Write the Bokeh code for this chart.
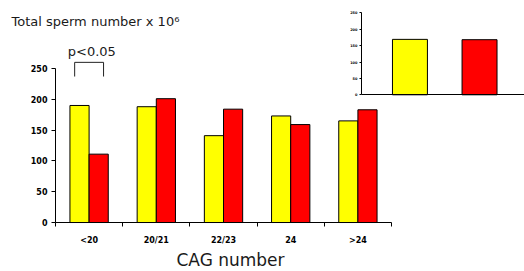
from bokeh.plotting import figure
from bokeh.models import Range1d, LinearAxis, FixedTicker
from bokeh.embed import file_html
from bokeh.resources import INLINE
from bokeh.core.properties import value

# ---- data ----
categories = ["<20", "20/21", "22/23", "24", ">24"]
series_yellow = [190, 188, 141, 173, 165]
series_red = [111, 201, 184, 159, 183]
inset_values = [169, 168]          # overall: yellow, red
y_ticks = [0, 50, 100, 150, 200, 250]
inset_y_ticks = [0, 50, 100, 150, 200, 250]
title_text = "Total sperm number x 10\u2076"
x_title = "CAG number"
sig_text = "p<0.05"
sig_category = "<20"
sig_bracket = [237, 260]           # bracket foot / top (y units)
sig_label_y = 278

YELLOW = "#FFFF00"
RED = "#FF0000"
FONT = "DejaVu Sans"

W, H = 524, 271
p = figure(width=W, height=H, output_backend="svg", toolbar_location=None,
           x_range=Range1d(-0.8185, 6.979), y_range=Range1d(-79.5, 360.4),
           x_axis_type=None, y_axis_type=None,
           min_border=0, min_border_left=0, min_border_right=0,
           min_border_top=0, min_border_bottom=0)
p.outline_line_color = None
p.background_fill_color = "white"
p.border_fill_color = "white"
p.extra_x_ranges = {"ix": Range1d(-2.168, 0.979)}
p.extra_y_ranges = {"iy": Range1d(-538.7, 287.5)}

# ---- main bars ----
n = len(categories)
bw = 0.285
xs_y = [i + 0.5 - bw / 2 for i in range(n)]
xs_r = [i + 0.5 + bw / 2 for i in range(n)]
p.vbar(x=xs_y, top=series_yellow, bottom=0, width=bw,
       fill_color=YELLOW, line_color="black", line_width=1)
p.vbar(x=xs_r, top=series_red, bottom=0, width=bw,
       fill_color=RED, line_color="black", line_width=1)

# ---- main axes ----
yax = LinearAxis(fixed_location=0, bounds=(0, 250),
                 ticker=FixedTicker(ticks=y_ticks, minor_ticks=[]))
yax.axis_line_color = "black"
yax.major_tick_out = 4
yax.major_tick_in = 0
yax.minor_tick_line_color = None
yax.major_label_standoff = 4
yax.major_label_text_font = FONT
yax.major_label_text_font_style = "bold"
yax.major_label_text_font_size = "8px"
yax.major_label_text_color = "black"
p.add_layout(yax, "left")

xax = LinearAxis(fixed_location=0, bounds=(0, n),
                 ticker=FixedTicker(ticks=[i + 0.5 for i in range(n)],
                                    minor_ticks=list(range(n + 1))))
xax.major_label_overrides = {i + 0.5: c for i, c in enumerate(categories)}
xax.axis_line_color = "black"
xax.major_tick_out = 0
xax.major_tick_in = 0
xax.minor_tick_out = 4
xax.minor_tick_in = 0
xax.minor_tick_line_color = "black"
xax.major_label_standoff = 9
xax.major_label_text_font = FONT
xax.major_label_text_font_style = "bold"
xax.major_label_text_font_size = "8px"
xax.major_label_text_color = "black"
p.add_layout(xax, "below")

# x axis title
p.text(x=[2.604], y=[-60.1], text=[x_title],
       text_font=value(FONT), text_font_size="17px", text_color="#1a1a1a",
       text_align="center", text_baseline="alphabetic")

# ---- significance bracket ----
si = categories.index(sig_category)
bx0, bx1 = si + 0.285, si + 0.715
p.line(x=[bx0, bx0, bx1, bx1],
       y=[sig_bracket[0], sig_bracket[1], sig_bracket[1], sig_bracket[0]],
       line_color="#222222", line_width=1)
p.text(x=[si + 0.54], y=[sig_label_y], text=[sig_text],
       text_font=value(FONT), text_font_size="13px", text_color="#1a1a1a",
       text_align="center", text_baseline="alphabetic")

# ---- title ----
p.text(x=[-0.655], y=[326.8], text=[title_text],
       text_font=value(FONT), text_font_size="13px", text_color="#1a1a1a",
       text_align="left", text_baseline="alphabetic")

# ---- inset (overall) ----
p.vbar(x=[0.291, 0.709], top=inset_values, bottom=0, width=0.21,
       fill_color=[YELLOW, RED], line_color="black", line_width=1,
       x_range_name="ix", y_range_name="iy")

iyax = LinearAxis(x_range_name="ix", y_range_name="iy", fixed_location=0,
                  bounds=(0, 250),
                  ticker=FixedTicker(ticks=inset_y_ticks, minor_ticks=[]))
iyax.axis_line_color = "black"
iyax.major_tick_out = 2
iyax.major_tick_in = 0
iyax.minor_tick_line_color = None
iyax.major_label_standoff = 2
iyax.major_label_text_font = FONT
iyax.major_label_text_font_style = "bold"
iyax.major_label_text_font_size = "3.5px"
iyax.major_label_text_color = "black"
p.add_layout(iyax, "left")

ixax = LinearAxis(x_range_name="ix", y_range_name="iy", fixed_location=0,
                  bounds=(0, 1), ticker=FixedTicker(ticks=[], minor_ticks=[]))
ixax.axis_line_color = "black"
ixax.major_tick_line_color = None
ixax.minor_tick_line_color = None
ixax.major_label_text_font_size = "0px"
p.add_layout(ixax, "below")

open("out.html", "w").write(file_html(p, INLINE))
